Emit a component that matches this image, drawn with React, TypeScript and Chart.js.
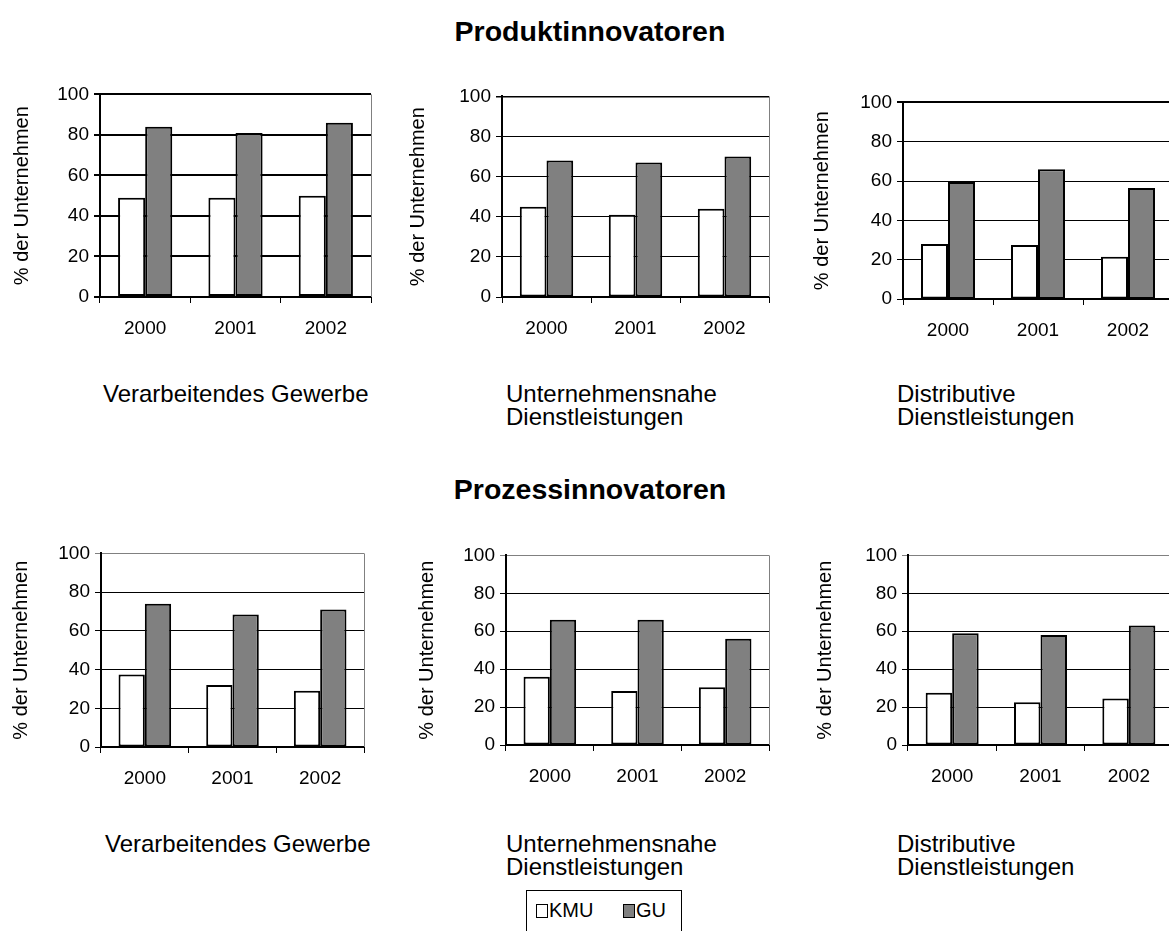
import React, { useEffect, useRef } from "react";
import { Chart, registerables } from "chart.js";

Chart.register(...registerables);

const years = ["2000", "2001", "2002"];
const yTicks = [0, 20, 40, 60, 80, 100];
const yTitle = "% der Unternehmen";
const seriesNames = ["KMU", "GU"];

const produktVerarbKMU = [49, 49, 50];
const produktVerarbGU = [84, 81, 86];
const produktUntKMU = [45, 41, 44];
const produktUntGU = [68, 67, 70];
const produktDistKMU = [28, 27.5, 21.5];
const produktDistGU = [59.5, 66, 56.5];

const prozessVerarbKMU = [37.5, 32, 29];
const prozessVerarbGU = [74, 68.5, 71];
const prozessUntKMU = [36, 28.5, 30.5];
const prozessUntGU = [66, 66, 56];
const prozessDistKMU = [27.5, 22.5, 24.5];
const prozessDistGU = [59, 58, 63];

const FONT = "'Liberation Sans', Arial, Helvetica, sans-serif";

type Rect = { l: number; t: number; r: number; b: number };
type PanelProps = {
  kmu: number[];
  gu: number[];
  rect: Rect;
  titlePad: number;
  gridWidth: number;
  topColor: string;
  topWidth: number;
};

const AXIS_W = 100;
const TOP_PAD = 14;
const X_H = 52;
const RIGHT_PAD = 6;

const rightBorder = {
  id: "rightBorder",
  afterDraw(chart: any) {
    const { ctx, chartArea } = chart;
    ctx.save();
    ctx.strokeStyle = "#808080";
    ctx.lineWidth = 1;
    ctx.beginPath();
    ctx.moveTo(Math.round(chartArea.right) + 0.5, chartArea.top);
    ctx.lineTo(Math.round(chartArea.right) + 0.5, chartArea.bottom);
    ctx.stroke();
    ctx.restore();
  },
};

function Panel(p: PanelProps) {
  const ref = useRef<HTMLCanvasElement | null>(null);
  const { rect } = p;
  const w = rect.r - rect.l + AXIS_W + RIGHT_PAD;
  const h = rect.b - rect.t + TOP_PAD + X_H;
  useEffect(() => {
    if (!ref.current) return;
    const chart = new Chart(ref.current, {
      type: "bar",
      data: {
        labels: years,
        datasets: [
          {
            label: seriesNames[0],
            data: p.kmu,
            backgroundColor: "#ffffff",
            borderColor: "#000000",
            borderWidth: 2,
            borderSkipped: false,
            categoryPercentage: 0.6,
            barPercentage: 1,
          },
          {
            label: seriesNames[1],
            data: p.gu,
            backgroundColor: "#808080",
            borderColor: "#000000",
            borderWidth: 2,
            borderSkipped: false,
            categoryPercentage: 0.6,
            barPercentage: 1,
          },
        ],
      },
      options: {
        animation: false,
        responsive: false,
        devicePixelRatio: 1,
        layout: { padding: { top: TOP_PAD, right: RIGHT_PAD, left: 0, bottom: 0 } },
        plugins: { legend: { display: false }, tooltip: { enabled: false }, title: { display: false } },
        scales: {
          x: {
            type: "category",
            afterFit: (s: any) => {
              s.height = X_H;
            },
            grid: {
              offset: true,
              drawOnChartArea: false,
              drawTicks: true,
              tickLength: 6,
              color: "#000000",
              lineWidth: 1,
            },
            border: { display: true, color: "#000000", width: 2 },
            ticks: {
              font: { family: FONT, size: 19 },
              color: "#000000",
              padding: 14,
              maxRotation: 0,
            },
          },
          y: {
            min: 0,
            max: 100,
            afterFit: (s: any) => {
              s.width = AXIS_W;
            },
            afterBuildTicks: (s: any) => {
              s.ticks = yTicks.map((v) => ({ value: v }));
            },
            grid: {
              drawTicks: true,
              tickLength: 6,
              color: (c: any) => (c.tick && c.tick.value === 100 ? p.topColor : "#000000"),
              lineWidth: (c: any) => (c.tick && c.tick.value === 100 ? p.topWidth : p.gridWidth),
            },
            border: { display: true, color: "#000000", width: 2 },
            ticks: {
              font: { family: FONT, size: 19 },
              color: "#000000",
              padding: 5,
            },
            title: {
              display: true,
              text: yTitle,
              font: { family: FONT, size: 20 },
              color: "#000000",
              padding: { top: p.titlePad, bottom: 0 },
            },
          },
        },
      },
      plugins: [rightBorder],
    });
    return () => chart.destroy();
  }, []);
  return (
    <div
      style={{
        position: "absolute",
        left: rect.l - AXIS_W,
        top: rect.t - TOP_PAD,
        width: w,
        height: h,
      }}
    >
      <canvas ref={ref} width={w} height={h} style={{ display: "block", width: w, height: h }} />
    </div>
  );
}

const textBase: React.CSSProperties = {
  position: "absolute",
  fontFamily: FONT,
  color: "#000",
  whiteSpace: "nowrap",
};

function Title({ text, top }: { text: string; top: number }) {
  return (
    <div
      style={{
        ...textBase,
        left: 0,
        width: 1180,
        top,
        textAlign: "center",
        fontSize: 28.5,
        fontWeight: "bold",
        lineHeight: "28px",
      }}
    >
      {text}
    </div>
  );
}

function Sub({ lines, left, top }: { lines: string[]; left: number; top: number }) {
  return (
    <div style={{ ...textBase, left, top, fontSize: 24, lineHeight: "23px" }}>
      {lines.map((l, i) => (
        <div key={i}>{l}</div>
      ))}
    </div>
  );
}

export default function App() {
  useEffect(() => {
    document.body.style.margin = "0";
  }, []);
  return (
    <div
      style={{
        position: "absolute",
        left: 0,
        top: 0,
        width: 1169,
        height: 931,
        overflow: "hidden",
        background: "#fff",
      }}
    >
      <Title text="Produktinnovatoren" top={17} />
      <Title text="Prozessinnovatoren" top={475} />

      <Panel kmu={produktVerarbKMU} gu={produktVerarbGU} rect={{ l: 100, t: 92, r: 371, b: 297 }} titlePad={10} gridWidth={2} topColor="#000" topWidth={2} />
      <Panel kmu={produktUntKMU} gu={produktUntGU} rect={{ l: 502, t: 94, r: 769, b: 297 }} titlePad={4} gridWidth={1} topColor="#000" topWidth={1.5} />
      <Panel kmu={produktDistKMU} gu={produktDistGU} rect={{ l: 903, t: 100, r: 1173, b: 299 }} titlePad={7} gridWidth={1} topColor="#000" topWidth={2} />

      <Panel kmu={prozessVerarbKMU} gu={prozessVerarbGU} rect={{ l: 101, t: 551, r: 364, b: 747 }} titlePad={8} gridWidth={1} topColor="#808080" topWidth={1} />
      <Panel kmu={prozessUntKMU} gu={prozessUntGU} rect={{ l: 506, t: 553, r: 769, b: 745 }} titlePad={9} gridWidth={1} topColor="#808080" topWidth={1} />
      <Panel kmu={prozessDistKMU} gu={prozessDistGU} rect={{ l: 908, t: 553, r: 1173, b: 745 }} titlePad={5} gridWidth={1} topColor="#808080" topWidth={1} />

      <Sub lines={["Verarbeitendes Gewerbe"]} left={103} top={382} />
      <Sub lines={["Unternehmensnahe", "Dienstleistungen"]} left={506} top={382} />
      <Sub lines={["Distributive", "Dienstleistungen"]} left={897} top={382} />

      <Sub lines={["Verarbeitendes Gewerbe"]} left={105} top={832} />
      <Sub lines={["Unternehmensnahe", "Dienstleistungen"]} left={506} top={832} />
      <Sub lines={["Distributive", "Dienstleistungen"]} left={897} top={832} />

      <div
        style={{
          position: "absolute",
          left: 526,
          top: 890,
          width: 156,
          height: 60,
          border: "1px solid #000",
          boxSizing: "border-box",
        }}
      />
      <div style={{ position: "absolute", left: 536, top: 904, width: 12, height: 14, border: "1.5px solid #000", boxSizing: "border-box", background: "#fff" }} />
      <div style={{ ...textBase, left: 549, top: 899, fontSize: 20, lineHeight: "22px" }}>{seriesNames[0]}</div>
      <div style={{ position: "absolute", left: 623, top: 904, width: 12, height: 14, border: "1.5px solid #000", boxSizing: "border-box", background: "#808080" }} />
      <div style={{ ...textBase, left: 636, top: 899, fontSize: 20, lineHeight: "22px" }}>{seriesNames[1]}</div>
    </div>
  );
}
